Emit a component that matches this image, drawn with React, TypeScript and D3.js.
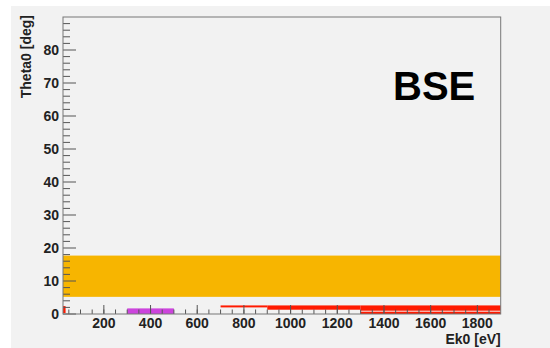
import React from "react";
import * as d3 from "d3";

// Axis ranges
const ek0Domain: [number, number] = [25, 1900];
const theta0Domain: [number, number] = [0, 90];

// Tick values
const xMajorTicks = [200, 400, 600, 800, 1000, 1200, 1400, 1600, 1800];
const yMajorTicks = [0, 10, 20, 30, 40, 50, 60, 70, 80];

// Filled regions in (Ek0, Theta0) space: [ek0 from, ek0 to, theta0 from, theta0 to]
const orangeRegion = [[25, 1900, 5.2, 17.7]];
const magentaRegion = [[300, 500, 0, 1.7]];
const redRegion = [
  [25, 36, 0.3, 2.4],
  [700, 900, 2.0, 2.6],
  [900, 1300, 1.3, 2.6],
  [1300, 1900, 1.0, 2.6],
  [1300, 1900, 0, 0.7],
];

const W = 550;
const H = 348;
const left = 63;
const right = 500.7;
const top = 17;
const bottom = 314;

const FONT = "'Liberation Sans', Arial, Helvetica, sans-serif";

export default function App() {
  const x = d3.scaleLinear().domain(ek0Domain).range([left, right]);
  const y = d3.scaleLinear().domain(theta0Domain).range([bottom, top]);

  const xMinor = d3.range(50, 1900, 50).filter((v) => v > ek0Domain[0] && v < ek0Domain[1]);
  const yMinor = d3.range(2, 90, 2).filter((v) => v % 10 !== 0);

  const boxes = (rows: number[][], color: string, key: string) =>
    rows.map((r, i) => (
      <rect
        key={key + i}
        x={x(r[0])}
        y={y(r[3])}
        width={x(r[1]) - x(r[0])}
        height={y(r[2]) - y(r[3])}
        fill={color}
      />
    ));

  const tickColor = "#555";

  return (
    <svg
      width={W}
      height={H}
      style={{ position: "absolute", left: 0, top: 0, background: "#fff" }}
    >
      <rect x={11} y={6} width={W - 11} height={H - 6} fill="#f2f2f2" />

      {boxes(orangeRegion, "#f7b500", "o")}
      {boxes(magentaRegion, "#cc44dd", "m")}
      {boxes(redRegion, "#ff1a00", "r")}

      {/* x ticks */}
      {xMinor.map((v) => (
        <line key={"xm" + v} x1={x(v)} x2={x(v)} y1={bottom} y2={bottom - 4.5} stroke={tickColor} strokeWidth={1} />
      ))}
      {xMajorTicks.map((v) => (
        <line key={"xM" + v} x1={x(v)} x2={x(v)} y1={bottom} y2={bottom - 9} stroke={tickColor} strokeWidth={1} />
      ))}
      {/* y ticks */}
      {yMinor.map((v) => (
        <line key={"ym" + v} x1={left} x2={left + 7} y1={y(v)} y2={y(v)} stroke={tickColor} strokeWidth={1} />
      ))}
      {yMajorTicks.map((v) => (
        <line key={"yM" + v} x1={left} x2={left + 13} y1={y(v)} y2={y(v)} stroke={tickColor} strokeWidth={1} />
      ))}

      {/* frame */}
      <rect x={left} y={top} width={right - left} height={bottom - top} fill="none" stroke="#777" strokeWidth={1} />

      {/* tick labels */}
      {xMajorTicks.map((v) => (
        <text key={"xl" + v} x={x(v)} y={327.5} textAnchor="middle" fontFamily={FONT} fontWeight="bold" fontSize={14} fill="#222">
          {v}
        </text>
      ))}
      {yMajorTicks.map((v) => (
        <text key={"yl" + v} x={59} y={y(v) + 5} textAnchor="end" fontFamily={FONT} fontWeight="bold" fontSize={14} fill="#222">
          {v}
        </text>
      ))}

      {/* axis titles */}
      <text x={right} y={344} textAnchor="end" fontFamily={FONT} fontWeight="bold" fontSize={14} fill="#222">
        Ek0 [eV]
      </text>
      <text
        transform={`translate(31,${top - 2}) rotate(-90)`}
        textAnchor="end"
        fontFamily={FONT}
        fontWeight="bold"
        fontSize={14}
        fill="#222"
      >
        Theta0 [deg]
      </text>

      <text x={393} y={100} fontFamily={FONT} fontWeight="bold" fontSize={40} fill="#000">
        BSE
      </text>
    </svg>
  );
}
